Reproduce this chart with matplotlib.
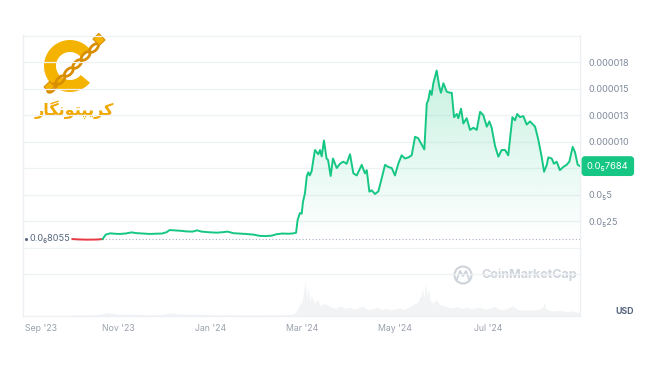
import numpy as np
import matplotlib
matplotlib.use("Agg")
import matplotlib.pyplot as plt
from matplotlib.patches import Polygon, Wedge, Ellipse, Circle, Rectangle
import pandas as pd

# ---------------- data ----------------
start = pd.Timestamp("2023-09-01")
# day offsets from 2023-09-01
price_days = [31, 33, 36, 39, 41, 44, 46, 49, 51, 53, 56, 59, 62, 66, 70, 73, 77, 82, 85, 90,
              93, 95, 98, 102, 106, 110, 113, 116, 121, 126, 130, 133, 137, 141, 145, 150, 154, 158, 162, 165,
              169, 173, 176, 178, 179, 180.5, 181.7, 182.5, 183.8, 185, 186, 187, 188.2, 189.3, 190.4, 191.5, 192.6, 193.7, 194.8, 196.3,
              198, 199, 200.7, 202.2, 204.7, 206.8, 209, 211.2, 213.4, 215.6, 217.8, 221.1, 223.2, 224.4, 226.1, 227.6, 229.8, 232, 233.1, 236.4,
              238.5, 240.8, 242.9, 245.1, 247.3, 249.5, 251.7, 253.9, 256.1, 258.2, 260.5, 262.2, 263.8, 264.8, 265.9, 267, 268.1, 270.3, 272, 273.1,
              274.7, 276.9, 279.1, 280.2, 281.7, 283.5, 284.5, 286.3, 287.8, 290, 292.2, 294.4, 296.6, 298.8, 300.9, 303.2, 304.9, 306.4, 308.6, 310.8,
              313, 315.2, 317.3, 320, 321.7, 323.2, 325, 327.2, 329.4, 331.6, 334.9, 337, 339.3, 340.8, 342.6, 343.6, 345.8, 347.3, 349.1, 351.2,
              353.4, 355.6, 357.4, 359.6, 361.1, 362.9, 364.4]
# price in millionths of USD (1e-6)
price = [0.80, 0.78, 0.76, 0.75, 0.74, 0.75, 0.75, 0.77, 0.80, 1.22, 1.34, 1.30, 1.28, 1.32, 1.43, 1.36, 1.32, 1.28, 1.30, 1.32,
         1.45, 1.65, 1.62, 1.58, 1.52, 1.50, 1.62, 1.50, 1.44, 1.40, 1.45, 1.50, 1.35, 1.32, 1.28, 1.22, 1.10, 1.08, 1.12, 1.25,
         1.32, 1.30, 1.33, 1.40, 2.60, 3.25, 3.20, 4.30, 5.10, 6.70, 7.10, 6.80, 7.20, 8.25, 9.20, 9.00, 8.80, 9.20, 8.60, 10.10,
         8.40, 8.25, 6.75, 8.40, 7.50, 7.90, 8.10, 7.90, 8.80, 7.00, 6.80, 7.80, 7.00, 7.30, 5.27, 5.40, 5.05, 5.30, 5.90, 7.80,
         7.60, 7.50, 6.80, 7.90, 8.70, 8.40, 8.50, 8.70, 10.45, 10.30, 9.70, 9.26, 13.60, 13.90, 14.80, 14.40, 15.50, 16.70, 15.20, 14.60,
         15.50, 14.70, 14.60, 14.60, 12.30, 12.60, 12.20, 13.10, 11.70, 12.20, 11.10, 11.30, 11.10, 12.80, 12.50, 11.40, 11.90, 11.30, 9.60, 8.57,
         9.20, 9.20, 8.70, 12.30, 12.00, 12.60, 12.30, 12.40, 11.60, 11.90, 11.40, 10.20, 8.50, 7.15, 7.80, 8.50, 8.40, 7.90, 8.10, 7.30,
         7.60, 7.80, 8.10, 9.50, 9.00, 7.80, 7.68]
base_price = 0.8055
base_label = "0.0\u20868055"
last_label = "0.0\u20857684"

vol_days = [31, 35, 39, 43, 47, 51, 55, 59, 63, 67, 71, 75, 79, 83, 87, 91, 95, 99, 103, 107,
            111, 115, 119, 123, 127, 131, 135, 139, 143, 147, 151, 155, 159, 163, 167, 171, 175, 178, 180, 182,
            183, 184, 185, 186, 187, 188, 190, 192, 194, 196, 198, 201, 204, 207, 210, 213, 216, 219, 222, 225,
            228, 231, 234, 237, 240, 243, 246, 249, 252, 255, 258, 260, 261, 262, 263, 264, 265, 266, 268, 270,
            272, 275, 278, 281, 284, 287, 290, 293, 296, 299, 302, 305, 308, 311, 314, 317, 320, 323, 326, 329,
            332, 335, 338, 340, 341, 342, 344, 347, 350, 353, 356, 359, 362, 364]
vol = [0.10, 0.09, 0.08, 0.09, 0.10, 0.20, 0.28, 0.16, 0.13, 0.14, 0.15, 0.12, 0.10, 0.10, 0.11, 0.15, 0.24, 0.18, 0.15, 0.13,
       0.16, 0.14, 0.12, 0.10, 0.10, 0.11, 0.10, 0.09, 0.09, 0.08, 0.09, 0.08, 0.09, 0.10, 0.10, 0.11, 0.12, 0.30, 0.80, 1.20,
       2.00, 2.70, 1.30, 2.30, 1.10, 1.60, 1.00, 1.30, 0.80, 1.00, 0.90, 0.70, 0.60, 0.80, 0.60, 0.70, 0.55, 0.65, 0.75, 0.50,
       0.55, 0.70, 0.50, 0.60, 0.50, 0.55, 0.65, 0.50, 0.70, 0.90, 1.10, 1.60, 2.10, 1.40, 2.60, 1.50, 2.20, 1.20, 1.00, 1.30,
       0.90, 0.80, 0.70, 0.65, 0.75, 0.60, 0.70, 0.55, 0.65, 0.70, 0.55, 0.60, 0.75, 0.55, 0.50, 0.60, 0.80, 0.55, 0.45, 0.50,
       0.45, 0.50, 0.55, 0.70, 1.10, 0.60, 0.45, 0.40, 0.45, 0.40, 0.35, 0.40, 0.30, 0.30]

ytick_vals = [-2.5, 0, 2.5, 5, 7.5, 10, 12.5, 15, 17.5, 20]
ytick_labels = ["", "", "0.0\u208525", "0.0\u20855", "", "0.000010", "0.000013", "0.000015", "0.000018", ""]
month_ticks = ["2023-09-01", "2023-11-01", "2024-01-01", "2024-03-01", "2024-05-01", "2024-07-01"]
month_labels = ["Sep '23", "Nov '23", "Jan '24", "Mar '24", "May '24", "Jul '24"]
logo_text = "\uFEAD\uFE8E\uFB95\uFEE7\uFEEE\uFE98\uFB59\uFBFE\uFEAE\uFB90"

# ---------------- style ----------------
GREEN = "#16c784"
RED = "#ea3943"
GRID = "#eff2f5"
FONT = ["Inter", "DejaVu Sans"]
plt.rcParams["font.family"] = FONT

W, H = 650, 365
fig = plt.figure(figsize=(W / 100, H / 100), dpi=100)
fig.patch.set_facecolor("white")

L, R, T, B = 23, 580, 35, 316
ax = fig.add_axes([L / W, 1 - B / H, (R - L) / W, (B - T) / H])
ax.set_facecolor("white")

x = np.array(price_days, dtype=float)
y = np.array(price, dtype=float)

ax.set_xlim(-1.3, 364.4)
ax.set_ylim(-6.46, 20.05)

# volume on twin axis
axv = ax.twinx()
axv.set_ylim(0, 22.1)
axv.fill_between(vol_days, 0, vol, color="#f1f3f5", lw=0, zorder=1)
axv.set_yticks([])
for s in axv.spines.values():
    s.set_visible(False)
axv.set_zorder(0)
ax.set_zorder(1)
ax.patch.set_visible(False)

# gradient fill above baseline
above = np.maximum(y, base_price)
poly = np.vstack([np.column_stack([x, above]), [[x[-1], base_price], [x[0], base_price]]])
clip = Polygon(poly, closed=True, facecolor="none", edgecolor="none")
ax.add_patch(clip)
n = 256
grad = np.zeros((n, 1, 4))
rgb = matplotlib.colors.to_rgb(GREEN)
grad[:, 0, 0], grad[:, 0, 1], grad[:, 0, 2] = rgb
grad[:, 0, 3] = np.linspace(0.24, 0.0, n)
im = ax.imshow(grad, aspect="auto", extent=[x[0], x[-1], base_price, y.max()], origin="upper",
               zorder=2, interpolation="bicubic")
im.set_clip_path(clip)

# baseline dotted
ax.plot([x[0], 364.4], [base_price, base_price], color="#a6b0c3", lw=0.8, ls=(0, (1, 2)), zorder=3)

# price line: red before first rise above base, green after
idx = int(np.argmax(y > base_price + 0.05))
ax.plot(x[:idx], y[:idx], color=RED, lw=1.4, zorder=4, solid_capstyle="round")
ax.plot(x[idx - 1:], y[idx - 1:], color=GREEN, lw=1.4, zorder=4, solid_joinstyle="round")

# axes styling
ax.set_yticks(ytick_vals)
ax.set_yticklabels(ytick_labels)
ax.yaxis.tick_right()
ax.tick_params(axis="y", length=0, pad=6, labelsize=6.6, labelcolor="#808a9d")
ax.grid(axis="y", color=GRID, lw=0.9)
xt = [(pd.Timestamp(m) - start).days for m in month_ticks]
ax.set_xticks(xt)
ax.set_xticklabels(month_labels)
ax.tick_params(axis="x", length=0, pad=6, labelsize=6.3, labelcolor="#9aa1ad")
ax.get_xticklabels()[0].set_horizontalalignment("left")
ax.spines["top"].set_visible(False)
for s in ["left", "right", "bottom"]:
    ax.spines[s].set_color("#eceff3")
    ax.spines[s].set_linewidth(0.9)

# baseline label
ax.text(x[0] - 1.5, base_price, base_label, ha="right", va="center", fontsize=6.6,
        color="#58667e", zorder=5)
ax.plot([0.6], [base_price], marker="o", ms=1.2, color="#58667e", clip_on=False, zorder=5)

# last price tag
ax.annotate(last_label, xy=(1.0, y[-1]), xycoords=("axes fraction", "data"),
            xytext=(5, 0), textcoords="offset points", ha="left", va="center",
            fontsize=6.8, color="white", zorder=6, annotation_clip=False,
            bbox=dict(boxstyle="round,pad=0.5,rounding_size=0.3", fc=GREEN, ec=GREEN))

# ---------------- overlay (logo, watermark, USD) ----------------
ov = fig.add_axes([0, 0, 1, 1])
ov.set_xlim(0, W)
ov.set_ylim(H, 0)
ov.axis("off")
ov.patch.set_visible(False)

GOLD = "#f5b301"
DARK = "#d98e00"
ov.add_patch(Wedge((70, 66), 26, 40, 320, width=12, facecolor=GOLD, edgecolor="none"))
# chain across the C
t = np.linspace(0, 1, 6)
for ti in t:
    cx = 52 + ti * 42
    cy = 88 - ti * 40
    ov.add_patch(Ellipse((cx, cy), 11, 5.5, angle=-44, facecolor="none", edgecolor=DARK, lw=2.0))
ov.add_patch(Rectangle((93, 39), 8, 9, angle=-44, facecolor=GOLD, edgecolor=DARK, lw=0.8))
ov.add_patch(Rectangle((44, 87), 8, 7, angle=-44, facecolor=GOLD, edgecolor=DARK, lw=0.8))
ov.text(74, 110, logo_text, ha="center", va="center", fontsize=11.5, fontweight="bold",
        color="#f0a800", family=["DejaVu Sans"])

ov.add_patch(Circle((463, 275), 8.5, facecolor="none", edgecolor="#cfd4db", lw=1.5))
ov.plot([457, 460, 463, 466, 469], [279, 271, 276, 271, 279], color="#cfd4db", lw=1.4)
ov.text(481, 275, "CoinMarketCap", ha="left", va="center", fontsize=9, fontweight="bold",
        color="#cfd4db")
ov.text(625, 311, "USD", ha="center", va="center", fontsize=6.3, fontweight="bold", color="#58667e")

fig.savefig("out.png", dpi=100, facecolor="white")
